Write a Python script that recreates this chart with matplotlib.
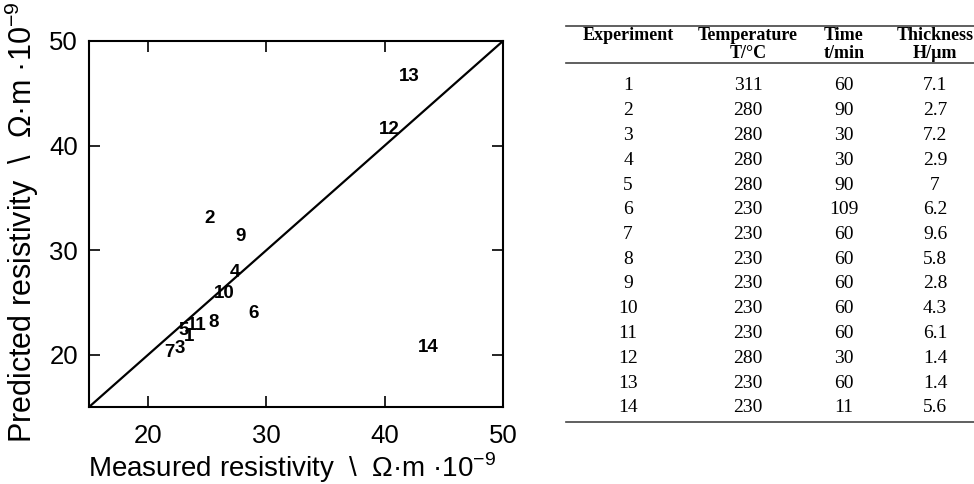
import matplotlib
matplotlib.use("Agg")
import matplotlib.pyplot as plt
from matplotlib.lines import Line2D

# ---- data ----
labels = ["1", "2", "3", "4", "5", "6", "7", "8", "9", "10", "11", "12", "13", "14"]
measured = [23.5, 25.2, 22.7, 27.3, 23.0, 28.95, 21.8, 25.5, 27.85, 26.4, 24.1, 40.4, 42.1, 43.65]
predicted = [21.7, 33.05, 20.6, 27.9, 22.35, 23.9, 20.25, 23.1, 31.3, 25.9, 22.8, 41.5, 46.6, 20.7]
ticks = [20, 30, 40, 50]

col_headers = ["Experiment", "Temperature", "Time", "Thickness"]
col_units = ["", "T/°C", "t/min", "H/µm"]
experiments = ["1", "2", "3", "4", "5", "6", "7", "8", "9", "10", "11", "12", "13", "14"]
temperature = ["311", "280", "280", "280", "280", "230", "230", "230", "230", "230", "230", "280", "230", "230"]
time_min = ["60", "90", "30", "30", "90", "109", "60", "60", "60", "60", "60", "30", "60", "11"]
thickness = ["7.1", "2.7", "7.2", "2.9", "7", "6.2", "9.6", "5.8", "2.8", "4.3", "6.1", "1.4", "1.4", "5.6"]

W, H = 974, 484
fig = plt.figure(figsize=(W / 100, H / 100), dpi=100)
sans = ["Liberation Sans", "DejaVu Sans"]
serif = ["Liberation Serif", "DejaVu Serif"]
plt.rcParams["mathtext.fontset"] = "custom"
plt.rcParams["mathtext.rm"] = "Liberation Sans"

ax = fig.add_axes([89 / W, 1 - 407 / H, 414 / W, 366 / H])
ax.set_xlim(15, 50)
ax.set_ylim(15, 50)
ax.plot([15, 50], [15, 50], color="black", lw=1.6)
for lab, x, y in zip(labels, measured, predicted):
    ax.text(x, y, lab, ha="center", va="center", fontsize=13.5, fontweight="bold",
            family=sans)
ax.set_xticks(ticks)
ax.set_yticks(ticks)
ax.tick_params(direction="in", length=8, width=1.2, top=True, right=True,
               labelsize=18.5)
ax.tick_params(axis="x", pad=12)
ax.tick_params(axis="y", pad=8)
for t in ax.get_xticklabels() + ax.get_yticklabels():
    t.set_family(sans)
for s in ax.spines.values():
    s.set_linewidth(1.5)
ax.set_xlabel("Measured resistivity  \\  Ω·m ·10$^{\\mathrm{-9}}$", fontsize=20, family=sans)
ax.set_ylabel("Predicted resistivity  \\  Ω·m ·10$^{\\mathrm{-9}}$", fontsize=22, family=sans)
ax.xaxis.set_label_coords(0.49, -0.118)
ax.yaxis.set_label_coords(-0.115, 0.505)

# ---- table ----
tab = fig.add_axes([0, 0, 1, 1], facecolor="none")
tab.set_xlim(0, W)
tab.set_ylim(H, 0)
tab.axis("off")
col_x = [628, 748, 844, 935]
tab.add_line(Line2D([566, 974], [26, 26], color="#444444", lw=1.2))
tab.add_line(Line2D([566, 974], [63, 63], color="#444444", lw=1.2))
tab.add_line(Line2D([566, 974], [422, 422], color="#444444", lw=1.2))
for cx, h, u in zip(col_x, col_headers, col_units):
    tab.text(cx, 36, h, ha="center", va="center", fontsize=13, fontweight="bold", family=serif)
    if u:
        tab.text(cx, 53, u, ha="center", va="center", fontsize=13, fontweight="bold", family=serif)
row_y0, row_dy = 86, 24.75
for i in range(len(experiments)):
    y = row_y0 + i * row_dy
    for cx, col in zip(col_x, [experiments, temperature, time_min, thickness]):
        tab.text(cx, y, col[i], ha="center", va="center", fontsize=14, family=serif)

fig.savefig("out.png", dpi=100)
